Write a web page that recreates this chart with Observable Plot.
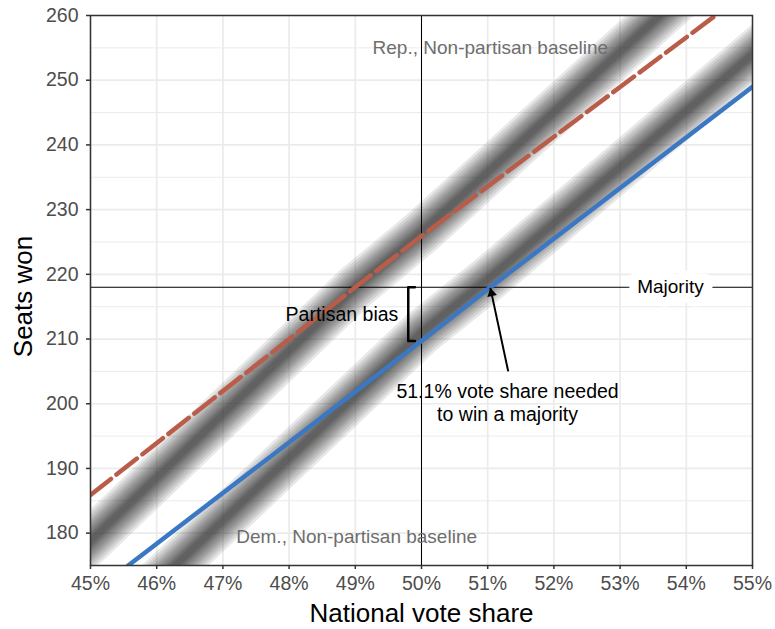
<!DOCTYPE html>
<html>
<head>
<meta charset="utf-8">
<script src="https://cdn.jsdelivr.net/npm/d3@7"></script>
<script src="https://cdn.jsdelivr.net/npm/@observablehq/plot@0.6"></script>
<style>
  body { margin: 0; background: #fff; }
  #chart svg { display: block; }
</style>
</head>
<body>
<div id="chart"></div>
<script>
// Vote share (%) and seats
const xTicks = [45, 46, 47, 48, 49, 50, 51, 52, 53, 54, 55];
const yTicks = [180, 190, 200, 210, 220, 230, 240, 250, 260];
const yMinor = [175, 185, 195, 205, 215, 225, 235, 245, 255];

// simulated seat curves (grey bands)
const repBandX = [44.5, 45, 49, 50, 53.6, 54.2];
const repBandY = [174, 178.8, 218, 226.5, 260, 265.5];
const demBandX = [45.8, 46.28, 50, 51, 55, 55.5];
const demBandY = [170.5, 175, 211, 219.2, 254, 258.5];

// model lines
const repLineX = [45, 49, 50, 54.44];
const repLineY = [185.9, 218, 225.9, 260];
const demLineX = [45.57, 50, 51.04, 55];
const demLineY = [175, 209.7, 218, 249];

const majority = 218;
const evenShare = 50;
const bracketX = [49.9, 49.8, 49.8, 49.9];
const bracketY = [218, 218, 209.7, 209.7];
const arrowFrom = {x: 51.31, y: 205.0};
const arrowTo = {x: 51.04, y: 217.9};

const baseLabels = [
  {x: 51.04, y: 255, text: "Rep., Non-partisan baseline"},
  {x: 49.02, y: 179.4, text: "Dem., Non-partisan baseline"}
];

const toPts = (xs, ys) => xs.map((x, i) => ({x, y: ys[i]}));
const repBand = toPts(repBandX, repBandY);
const demBand = toPts(demBandX, demBandY);
const repLine = toPts(repLineX, repLineY);
const demLine = toPts(demLineX, demLineY);
const bracket = toPts(bracketX, bracketY);

// soft band: stacked translucent strokes of decreasing width
const bandWidths = [46, 41, 36, 31, 27, 23, 19, 15, 12, 9, 6];
const bandMarks = [];
for (const band of [repBand, demBand]) {
  for (const w of bandWidths) {
    bandMarks.push(Plot.line(band, {x: "x", y: "y", stroke: "#222", strokeOpacity: 0.105, strokeWidth: w, clip: true}));
  }
}

const FONT = "Liberation Sans, Arial, Helvetica, sans-serif";

const chart = Plot.plot({
  width: 775,
  height: 629,
  marginLeft: 90,
  marginRight: 23,
  marginTop: 15,
  marginBottom: 64,
  style: {fontFamily: FONT, background: "#fff"},
  x: {domain: [45, 55], label: null},
  y: {domain: [175, 260], label: null},
  marks: [
    Plot.gridY(yMinor, {stroke: "#ebebeb", strokeOpacity: 1, strokeWidth: 1}),
    Plot.gridY(yTicks, {stroke: "#ebebeb", strokeOpacity: 1, strokeWidth: 1.7}),
    Plot.gridX(xTicks, {stroke: "#ebebeb", strokeOpacity: 1, strokeWidth: 1.7}),
    ...bandMarks,
    Plot.ruleX([evenShare], {stroke: "#000", strokeWidth: 1}),
    Plot.ruleY([majority], {stroke: "#000", strokeWidth: 1}),
    Plot.line(demLine, {x: "x", y: "y", stroke: "#3b78c3", strokeWidth: 4.5, clip: true}),
    Plot.line(repLine, {x: "x", y: "y", stroke: "#b95c49", strokeWidth: 4.5, strokeDasharray: "26 7", clip: true}),
    Plot.line(bracket, {x: "x", y: "y", stroke: "#000", strokeWidth: 2.5}),
    Plot.link([{x1: arrowFrom.x, y1: arrowFrom.y, x2: arrowTo.x, y2: arrowTo.y}], {x1: "x1", y1: "y1", x2: "x2", y2: "y2", stroke: "#000", strokeWidth: 2}),
    Plot.dot([arrowTo], {x: "x", y: "y", symbol: "triangle", r: 3.6, fill: "#000", stroke: "none", rotate: -12, dx: 1.2, dy: 5.4}),
    Plot.text(baseLabels, {x: "x", y: "y", text: "text", fill: "#6e6e6e", fontSize: 19}),
    Plot.text([{x: 53.76, y: majority, text: "Majority"}], {x: "x", y: "y", text: "text", fill: "#000", fontSize: 19, stroke: "#fff", strokeWidth: 19, paintOrder: "stroke"}),
    Plot.text([{x: 49.65, y: 213.7, text: "Partisan bias"}], {x: "x", y: "y", text: "text", fill: "#000", fontSize: 19.5, textAnchor: "end"}),
    Plot.text([{x: 51.3, y: 200.2, text: "51.1% vote share needed\nto win a majority"}], {x: "x", y: "y", text: "text", fill: "#000", fontSize: 19.5, lineHeight: 1.14}),
    Plot.frame({stroke: "#333", strokeWidth: 1.5}),
    Plot.axisX(xTicks, {tickFormat: d => d + "%", fontSize: 19.5, fill: "#4d4d4d", stroke: "#333", strokeWidth: 1.5, tickSize: 4, tickPadding: 7, label: null}),
    Plot.axisY(yTicks, {fontSize: 19.5, fill: "#4d4d4d", stroke: "#333", strokeWidth: 1.5, tickSize: 4, tickPadding: 8, label: null}),
    Plot.text(["National vote share"], {frameAnchor: "bottom", lineAnchor: "middle", textAnchor: "middle", dy: 48, fontSize: 26, fill: "#000"}),
    Plot.text(["Seats won"], {frameAnchor: "left", lineAnchor: "middle", textAnchor: "middle", dx: -67, dy: 6, rotate: -90, fontSize: 26, fill: "#000"})
  ]
});

document.getElementById("chart").appendChild(chart);
</script>
</body>
</html>
